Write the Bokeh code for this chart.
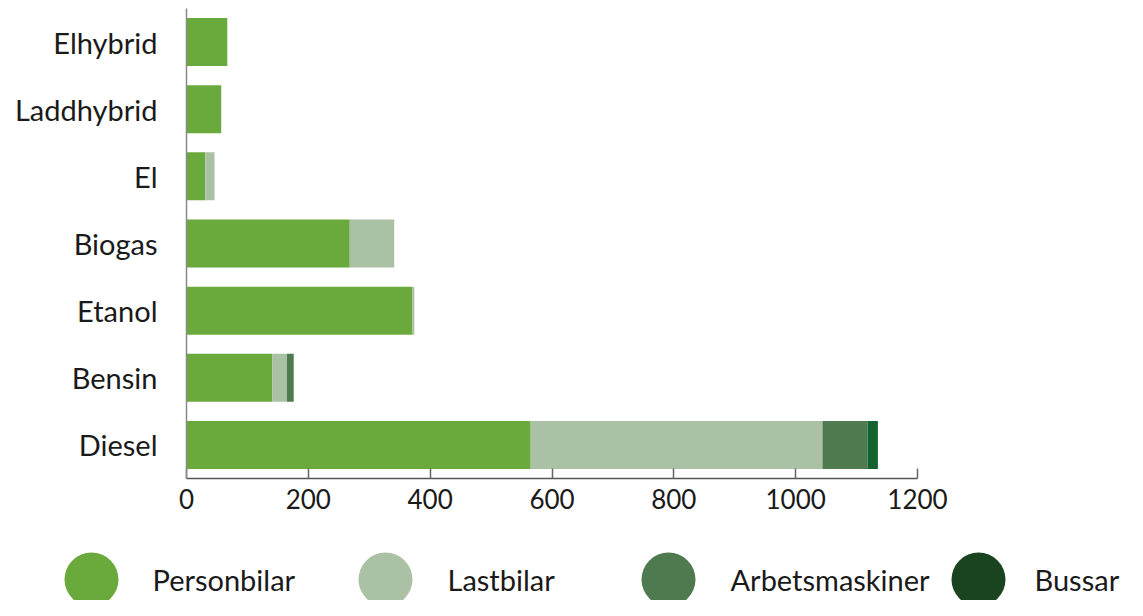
from bokeh.plotting import figure
from bokeh.models import ColumnDataSource, FactorRange, Range1d, FixedTicker
from bokeh.core.properties import value
from bokeh.embed import file_html
from bokeh.resources import INLINE

# Data (bottom to top)
categories = ["Diesel", "Bensin", "Etanol", "Biogas", "El", "Laddhybrid", "Elhybrid"]
personbilar = [565, 141, 371, 268, 31, 57, 67]
lastbilar = [479, 24, 3, 73, 15, 0, 0]
arbetsmaskiner = [74, 11, 0, 0, 0, 0, 0]
bussar = [17, 0, 0, 0, 0, 0, 0]
series = ["Personbilar", "Lastbilar", "Arbetsmaskiner", "Bussar"]
bar_colors = ["#6aa93c", "#abc1a5", "#4f7a50", "#13632f"]
legend_colors = ["#6aa93c", "#abc1a5", "#4f7a50", "#1a4420"]
x_ticks = [0, 200, 400, 600, 800, 1000, 1200]

FONT = "Lato"
W = 1127

source = ColumnDataSource(dict(cat=categories, Personbilar=personbilar, Lastbilar=lastbilar,
                               Arbetsmaskiner=arbetsmaskiner, Bussar=bussar))

p = figure(width=W, height=522, y_range=FactorRange(*categories, range_padding=0),
           x_range=Range1d(0, 1200), output_backend="svg", toolbar_location=None,
           min_border_left=186, min_border_right=W - 917, min_border_top=8, min_border_bottom=44)
p.hbar_stack(series, y="cat", height=0.715, color=bar_colors, source=source, line_width=0)

p.xgrid.visible = False
p.ygrid.visible = False
p.outline_line_color = None
p.background_fill_color = "white"
p.border_fill_color = "white"

xa = p.xaxis[0]
xa.ticker = FixedTicker(ticks=x_ticks)
xa.major_tick_in = 10
xa.major_tick_out = 0
xa.minor_tick_line_color = None
xa.axis_line_color = "#555555"
xa.axis_line_width = 1.5
xa.major_tick_line_color = "#666666"
xa.major_tick_line_width = 1.5
xa.major_label_text_font = FONT
xa.major_label_text_font_size = "26px"
xa.major_label_text_color = "#1a1a1a"
xa.major_label_standoff = 10

ya = p.yaxis[0]
ya.major_tick_line_color = None
ya.minor_tick_line_color = None
ya.axis_line_color = "#8a8a8a"
ya.axis_line_width = 1.5
ya.major_label_text_font = FONT
ya.major_label_text_font_size = "29px"
ya.major_label_text_color = "#1a1a1a"
ya.major_label_standoff = 23

# Legend figure (separate root, so its frame is not aligned with the chart's)
LH = 78
lg = figure(width=W, height=LH, x_range=Range1d(0, W), y_range=Range1d(0, LH),
            output_backend="svg", toolbar_location=None, min_border=0)
lg.axis.visible = False
lg.grid.visible = False
lg.outline_line_color = None
leg_x = [91, 385, 668, 978]
leg_tx = [152, 447, 730, 1034]
leg_src = ColumnDataSource(dict(x=leg_x, y=[21] * 4, color=legend_colors,
                                tx=leg_tx, label=series))
lg.ellipse(x="x", y="y", width=54, height=54, color="color", source=leg_src, line_width=0)
lg.text(x="tx", y="y", text="label", source=leg_src, text_font=value(FONT),
        text_font_size="29px", text_baseline="middle", text_color="#1a1a1a")

open("out.html", "w").write(file_html([p, lg], INLINE))
